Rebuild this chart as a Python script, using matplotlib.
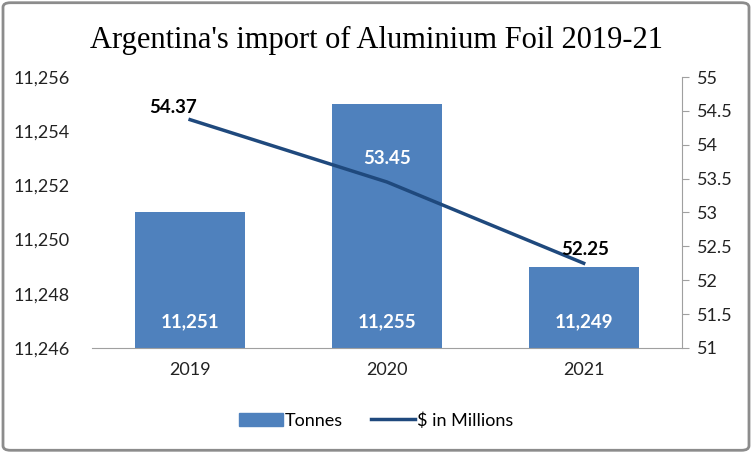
import matplotlib
matplotlib.use("Agg")
import matplotlib.pyplot as plt
from matplotlib.patches import FancyBboxPatch
from matplotlib.lines import Line2D
from matplotlib.patches import Patch
from matplotlib.ticker import FuncFormatter, MultipleLocator

years = ["2019", "2020", "2021"]
tonnes = [11251, 11255, 11249]
usd_millions = [54.37, 53.45, 52.25]

bar_color = "#4f81bd"
line_color = "#1f497d"
font = "Lato"

fig = plt.figure(figsize=(7.52, 4.53), dpi=100)
ax = fig.add_axes([0.122, 0.232, 0.785, 0.598])
ax2 = ax.twinx()

x = list(range(len(years)))
ax.bar(x, tonnes, width=0.56, color=bar_color, zorder=2)
ax.set_xlim(-0.5, 2.5)
ax.set_ylim(11246, 11256)
ax.yaxis.set_major_locator(MultipleLocator(2))
ax.yaxis.set_major_formatter(FuncFormatter(lambda v, p: f"{int(v):,}"))
ax.set_xticks(x)
ax.set_xticklabels(years)

ax2.plot(x, usd_millions, color=line_color, lw=2.5, zorder=3)
ax2.set_ylim(51, 55)
ax2.yaxis.set_major_locator(MultipleLocator(0.5))
ax2.yaxis.set_major_formatter(FuncFormatter(lambda v, p: f"{v:g}"))

for a in (ax, ax2):
    for s in ("top", "left", "right"):
        a.spines[s].set_visible(False)
ax.spines["bottom"].set_color("#a0a0a0")
ax2.spines["bottom"].set_visible(False)
ax2.spines["right"].set_visible(True)
ax2.spines["right"].set_color("#a0a0a0")

ax.tick_params(axis="y", length=0, labelsize=13, pad=16, labelcolor="#222222")
ax.tick_params(axis="x", length=0, labelsize=13, pad=10, labelcolor="#222222")
ax2.tick_params(axis="y", length=5, color="#a0a0a0", labelsize=13, pad=6, labelcolor="#222222")
for lab in ax.get_xticklabels() + ax.get_yticklabels() + ax2.get_yticklabels():
    lab.set_fontfamily(font)

# bar labels
for xi, v in zip(x, tonnes):
    ax.text(xi, 11246.95, f"{v:,}", ha="center", va="center", color="white",
            fontsize=13.5, fontweight="bold", family=font, zorder=4)

# line labels
label_offsets = [(-12, 9), (0, 17), (1, 10)]
colors = ["black", "white", "black"]
for xi, v, c, off in zip(x, usd_millions, colors, label_offsets):
    ax2.annotate(f"{v:.2f}", (xi, v), xytext=off, textcoords="offset points",
                 ha="center", va="center", color=c, fontsize=13.5, fontweight="bold",
                 family=font, zorder=5)

fig.text(0.5, 0.91, "Argentina's import of Aluminium Foil 2019-21", ha="center", va="center",
         fontsize=22, family="Liberation Serif", color="black")

handles = [Patch(color=bar_color), Line2D([], [], color=line_color, lw=2.5)]
fig.legend(handles, ["Tonnes", "$ in Millions"], loc="center", bbox_to_anchor=(0.5, 0.072),
           ncol=2, frameon=False, prop={"family": font, "size": 13},
           handlelength=2.4, handletextpad=0.1, columnspacing=1.6)

border = FancyBboxPatch((0.004, 0.006), 0.992, 0.988, boxstyle="round,pad=0,rounding_size=0.01",
                        transform=fig.transFigure, fill=False, edgecolor="#8c8c8c", lw=2)
fig.patches.append(border)

fig.savefig("out.png", dpi=100)
